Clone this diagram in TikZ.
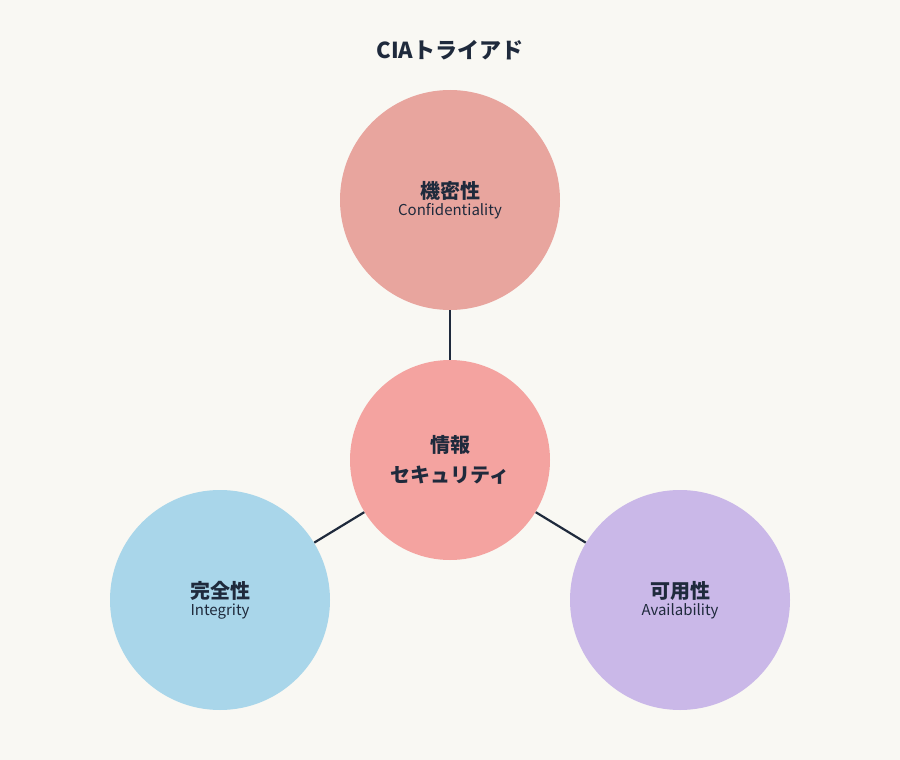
\documentclass[tikz,border=0pt]{standalone}
\usepackage{fontspec}
\setmainfont{Noto Sans CJK JP}
\definecolor{bgcol}{HTML}{F9F8F3}
\definecolor{inkcol}{HTML}{1F2A3C}
\definecolor{confcol}{HTML}{E8A59E}
\definecolor{corecol}{HTML}{F4A3A0}
\definecolor{integcol}{HTML}{A9D6EA}
\definecolor{availcol}{HTML}{CAB8E8}
\tikzset{every picture/.style={line width=0.75pt}}
\tikzset{
  pillar/.style={circle, draw=none, minimum size=220pt, inner sep=0pt, align=center, text=inkcol},
  link/.style={draw=inkcol, line width=2.2pt},
}
\newcommand{\jplabel}[2]{\fontsize{20}{24}\selectfont\bfseries #1\\[2pt]\fontsize{15}{18}\selectfont\mdseries #2}
\begin{document}
\begin{tikzpicture}[x=1pt,y=1pt,yscale=-1,xscale=1]
\fill[bgcol] (0,0) rectangle (900,760);
\useasboundingbox (0,0) rectangle (900,760);

% Title
\node (title) at (450,50) [text=inkcol, font=\fontsize{22}{26}\selectfont\bfseries] {CIAトライアド};

% Circles
\node (core) at (450,460) [pillar, fill=corecol, minimum size=200pt, font=\fontsize{20}{30}\selectfont\bfseries] {情報\\セキュリティ};
\node (conf) at (450,200) [pillar, fill=confcol] {\jplabel{機密性}{Confidentiality}};
\node (integ) at (220,600) [pillar, fill=integcol] {\jplabel{完全性}{Integrity}};
\node (avail) at (680,600) [pillar, fill=availcol] {\jplabel{可用性}{Availability}};

% Links
\draw [link] (core) -- (conf);
\draw [link] (core) -- (integ);
\draw [link] (core) -- (avail);
\end{tikzpicture}
\end{document}
